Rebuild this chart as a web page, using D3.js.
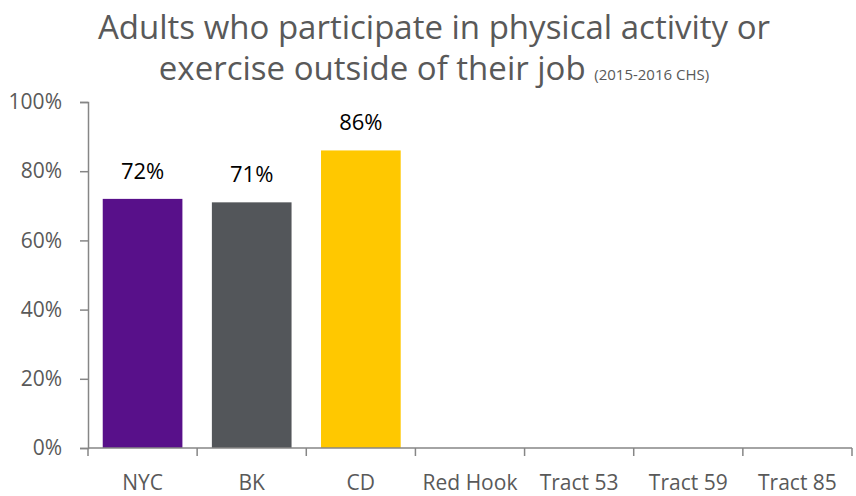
<!DOCTYPE html>
<html>
<head>
<meta charset="utf-8">
<script src="https://cdnjs.cloudflare.com/ajax/libs/d3/7.8.5/d3.min.js"></script>
<style>
body { margin: 0; background: #fff; }
svg text { font-family: "Open Sans", sans-serif; }
</style>
</head>
<body>
<div id="chart"></div>
<script>
// data
var categories = ["NYC", "BK", "CD", "Red Hook", "Tract 53", "Tract 59", "Tract 85"];
var values = [0.72, 0.71, 0.86, null, null, null, null];
var barColors = ["#58108a", "#53565a", "#ffc800", "#999", "#999", "#999", "#999"];
var yTicks = [0, 0.2, 0.4, 0.6, 0.8, 1.0];

var width = 856, height = 496;
var margin = {top: 102, right: 4, bottom: 48, left: 88};
var plotW = width - margin.left - margin.right,
    plotH = height - margin.top - margin.bottom;

var svg = d3.select("#chart").append("svg")
    .attr("width", width)
    .attr("height", height);

// title
var title = svg.append("text")
    .attr("text-anchor", "middle")
    .attr("fill", "#595959");
title.append("tspan")
    .attr("x", 434).attr("y", 39)
    .style("font-size", "33px")
    .text("Adults who participate in physical activity or");
var line2 = title.append("tspan")
    .attr("x", 434).attr("y", 80)
    .style("font-size", "33px")
    .text("exercise outside of their job ");
line2.append("tspan")
    .style("font-size", "15px")
    .text("(2015-2016 CHS)");

var g = svg.append("g")
    .attr("transform", "translate(" + margin.left + "," + margin.top + ")");

var xScale = d3.scaleBand()
    .domain(categories)
    .range([0, plotW])
    .paddingInner(0.27)
    .paddingOuter(0.135);

var yScale = d3.scaleLinear()
    .domain([0, 1])
    .range([plotH, 0]);

// y axis
var yAxis = g.append("g")
    .call(d3.axisLeft(yScale).tickValues(yTicks).tickFormat(d3.format(".0%")).tickSize(8).tickPadding(18));
yAxis.select(".domain").attr("stroke", "#868686").attr("stroke-width", 1.5);
yAxis.selectAll(".tick line").attr("stroke", "#868686").attr("stroke-width", 1.5);
yAxis.selectAll(".tick text")
    .attr("fill", "#595959")
    .style("font-size", "21px");

// bars
var data = categories.map(function(c, i) { return {cat: c, val: values[i], color: barColors[i]}; })
    .filter(function(d) { return d.val != null; });

g.selectAll("rect.bar")
    .data(data)
    .enter().append("rect")
    .attr("class", "bar")
    .attr("x", function(d) { return xScale(d.cat); })
    .attr("y", function(d) { return yScale(d.val); })
    .attr("width", xScale.bandwidth())
    .attr("height", function(d) { return plotH - yScale(d.val); })
    .attr("fill", function(d) { return d.color; });

g.selectAll("text.lbl")
    .data(data)
    .enter().append("text")
    .attr("class", "lbl")
    .attr("text-anchor", "middle")
    .attr("x", function(d) { return xScale(d.cat) + xScale.bandwidth() / 2; })
    .attr("y", function(d) { return yScale(d.val) - 20; })
    .attr("fill", "#000")
    .style("font-size", "22px")
    .text(function(d) { return d3.format(".0%")(d.val); });

// x axis with ticks between categories
var xAxisG = g.append("g")
    .attr("transform", "translate(0," + plotH + ")");
xAxisG.append("line")
    .attr("x1", 0).attr("x2", plotW)
    .attr("stroke", "#868686").attr("stroke-width", 1.5);
var step = xScale.step();
xAxisG.selectAll("line.tk")
    .data(d3.range(categories.length + 1))
    .enter().append("line")
    .attr("class", "tk")
    .attr("x1", function(i) { return i * step; })
    .attr("x2", function(i) { return i * step; })
    .attr("y1", 0).attr("y2", 8)
    .attr("stroke", "#868686").attr("stroke-width", 1.5);
xAxisG.selectAll("text")
    .data(categories)
    .enter().append("text")
    .attr("text-anchor", "middle")
    .attr("x", function(d) { return xScale(d) + xScale.bandwidth() / 2; })
    .attr("y", 42)
    .attr("fill", "#595959")
    .style("font-size", "21px")
    .text(function(d) { return d; });
</script>
</body>
</html>
